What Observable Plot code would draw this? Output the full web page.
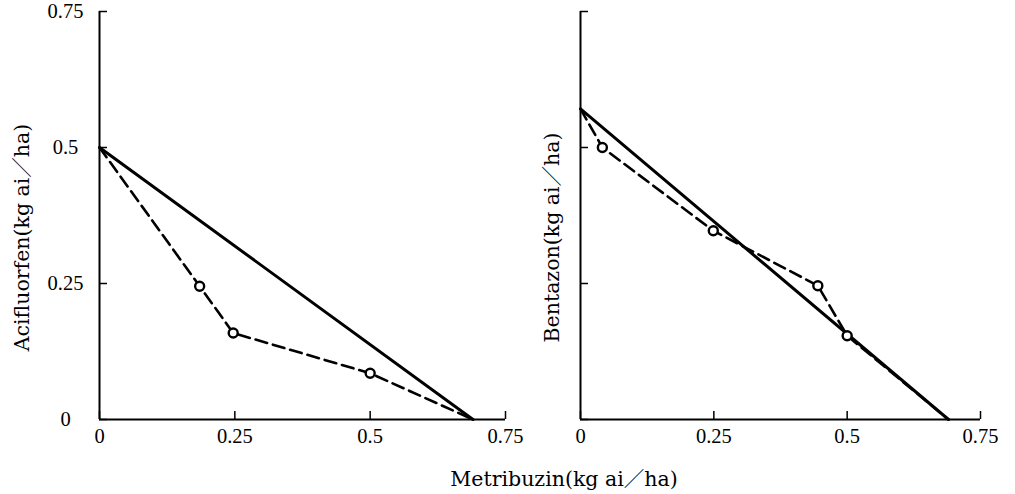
<!DOCTYPE html>
<html><head><meta charset="utf-8">
<script src="https://cdn.jsdelivr.net/npm/d3@7"></script>
<script src="https://cdn.jsdelivr.net/npm/@observablehq/plot@0.6"></script>
<style>
body{margin:0;background:#fff;}
#wrap{position:relative;width:1015px;height:494px;background:#fff;overflow:hidden;}
#left{position:absolute;left:0;top:0;}
#right{position:absolute;left:520px;top:0;}
#left svg,#right svg{background:none !important;overflow:visible;}
#xlabel{position:absolute;top:467px;left:564px;transform:translateX(-50%);white-space:nowrap;font-family:"DejaVu Serif","Noto Sans CJK JP",serif;font-size:20.5px;line-height:24px;color:#000;}
.ttl text{font-family:"DejaVu Serif","Noto Sans CJK JP",serif !important;font-size:20.5px !important;}
.tk text{font-family:"Liberation Serif",serif !important;font-size:20.5px !important;}
</style></head>
<body>
<div id="wrap"><div id="left"></div><div id="right"></div><div id="xlabel"></div></div>
<script>
// ---- data ----
const xTicks = [0, 0.25, 0.5, 0.75];
const xTickLabels = ["0", "0.25", "0.5", "0.75"];
const yTicks = [0, 0.25, 0.5, 0.75];
const yTickLabels = ["0", "0.25", "0.5", "0.75"];

const xTitle = "Metribuzin(kg ai／ha)";
const leftTitle = "Acifluorfen(kg ai／ha)";
const rightTitle = "Bentazon(kg ai／ha)";

// Acifluorfen + Metribuzin
const aciIsoboleX = [0, 0.69];
const aciIsoboleY = [0.5, 0];
const aciObservedX = [0.185, 0.247, 0.5];
const aciObservedY = [0.245, 0.159, 0.085];

// Bentazon + Metribuzin
const benIsoboleX = [0, 0.69];
const benIsoboleY = [0.571, 0];
const benObservedX = [0.041, 0.249, 0.445, 0.5];
const benObservedY = [0.50, 0.347, 0.246, 0.154];

const titleFont = '"DejaVu Serif","Noto Sans CJK JP",serif';
const tickFont = '"Liberation Serif",serif';

function panel({width, marginLeft, marginRight, isoX, isoY, obsX, obsY, title, titleDx, showYLabels}) {
  const iso = isoX.map((x, i) => ({x, y: isoY[i]}));
  const obs = obsX.map((x, i) => ({x, y: obsY[i]}));
  const dashed = [iso[0], ...obs, iso[iso.length - 1]];
  const svg = Plot.plot({
    width, height: 455, marginLeft, marginRight, marginTop: 11, marginBottom: 36,
    x: {domain: [0, 0.75], label: null},
    y: {domain: [0, 0.75], label: null},
    style: {fontFamily: tickFont, fontSize: "20.5px", color: "#000", background: "none", overflow: "visible"},
    marks: [
      Plot.axisX(xTicks, {tickSize: -8, tickPadding: 17, strokeWidth: 1.5, label: null, fontSize: 20.5, fontFamily: tickFont, className: "tk",
        tickFormat: d => xTickLabels[xTicks.indexOf(d)]}),
      Plot.axisY(yTicks, {tickSize: -8, tickPadding: 42, strokeWidth: 1.5, label: null, textAnchor: "middle", fontSize: 20.5, fontFamily: tickFont, className: "tk",
        tickFormat: d => showYLabels ? yTickLabels[yTicks.indexOf(d)] : ""}),
      Plot.ruleX([0], {strokeWidth: 2}),
      Plot.ruleY([0], {strokeWidth: 2}),
      Plot.line(iso, {x: "x", y: "y", stroke: "#000", strokeWidth: 3}),
      Plot.line(dashed, {x: "x", y: "y", stroke: "#000", strokeWidth: 2.6, strokeDasharray: "12,6"}),
      Plot.dot(obs, {x: "x", y: "y", r: 4.5, stroke: "#000", fill: "#fff", strokeWidth: 2.4}),
      Plot.text([title], {frameAnchor: "left", rotate: -90, textAnchor: "middle", dx: titleDx, dy: 22,
        fontFamily: titleFont, fontSize: 20.5, fill: "#000", className: "ttl"})
    ]
  });
  return svg;
}

document.getElementById("left").append(panel({
  width: 520, marginLeft: 99, marginRight: 15,
  isoX: aciIsoboleX, isoY: aciIsoboleY, obsX: aciObservedX, obsY: aciObservedY,
  title: leftTitle, titleDx: -77, showYLabels: true
}));
document.getElementById("right").append(panel({
  width: 495, marginLeft: 60, marginRight: 35,
  isoX: benIsoboleX, isoY: benIsoboleY, obsX: benObservedX, obsY: benObservedY,
  title: rightTitle, titleDx: -28, showYLabels: false
}));
document.getElementById("xlabel").textContent = xTitle;
</script>
</body></html>
